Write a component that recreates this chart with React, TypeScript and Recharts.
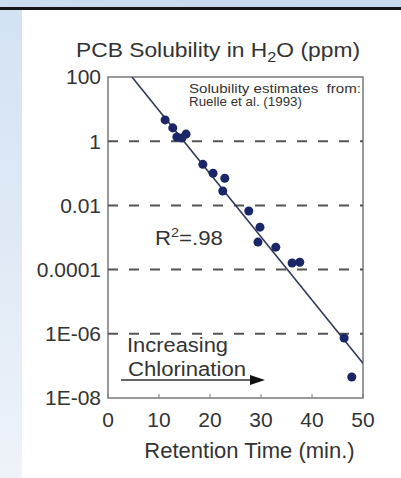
import React from 'react';
import {
	ScatterChart,
	Scatter,
	XAxis,
	YAxis,
	ReferenceLine,
	ReferenceArea,
	Label,
} from 'recharts';

// Data
const retentionTimes = [
	11.2, 12.7, 13.5, 14.5, 15.3, 18.6, 20.6, 22.9, 22.5, 27.6, 29.8, 29.4, 32.9,
	36.1, 37.6, 46.3, 47.8,
];
const solubilities = [
	4.6, 2.6, 1.35, 1.26, 1.66, 0.19, 0.1, 0.07, 0.028, 0.0067, 0.0021, 0.00072,
	0.0005, 0.00016, 0.00017, 7.4e-7, 4.5e-8,
];

// Regression line end points
const fitTimes = [4.7, 50];
const fitValues = [100, 1.2e-7];

const xTicks = [0, 10, 20, 30, 40, 50];
const yTicks = [1e-8, 1e-6, 1e-4, 1e-2, 1, 100];
const yTickLabels = ['1E-08', '1E-06', '0.0001', '0.01', '1', '100'];
const gridValues = [1e-6, 1e-4, 1e-2, 1];

type Pt = { time: number; sol: number };

const points: Pt[] = retentionTimes.map((t, i) => ({ time: t, sol: solubilities[i] }));
const fit: Pt[] = fitTimes.map((t, i) => ({ time: t, sol: fitValues[i] }));

const FONT = '"Liberation Sans", Arial, sans-serif';
const TEXT = '#333';

const formatY = (v: number) => {
	const i = yTicks.findIndex((t) => Math.abs(Math.log10(t) - Math.log10(v)) < 1e-6);
	return i >= 0 ? yTickLabels[i] : '';
};

const App = () => {
	return (
		<div
			style={{
				position: 'absolute',
				left: 0,
				top: 0,
				width: 401,
				height: 478,
				background: '#fff',
				overflow: 'hidden',
			}}>
			{/* slide background */}
			<div
				style={{
					position: 'absolute',
					left: 0,
					top: 0,
					width: 22,
					height: 478,
					background: 'linear-gradient(#d3e2f3, #e2ebf6 60%, #eef3f9)',
				}}
			/>
			<div
				style={{
					position: 'absolute',
					left: 0,
					top: 0,
					width: 401,
					height: 7,
					background: 'linear-gradient(90deg, #cddcef, #c6d9ef)',
				}}
			/>
			<div
				style={{
					position: 'absolute',
					left: 0,
					top: 7,
					width: 401,
					height: 3,
					background: '#151515',
				}}
			/>
			<div style={{ position: 'absolute', left: 0, top: 0 }}>
				<ScatterChart
					width={401}
					height={478}
					margin={{ top: 77, right: 38, left: 8, bottom: 0 }}>
					<ReferenceArea
						x1={0}
						x2={50}
						y1={1e-8}
						y2={100}
						fill='none'
						fillOpacity={0}
						stroke='#7a7a7a'
						strokeWidth={1.5}
					/>
					{gridValues.map((v) => (
						<ReferenceLine
							key={v}
							y={v}
							stroke='#555'
							strokeWidth={2}
							strokeDasharray='10 11'
						/>
					))}
					<XAxis
						type='number'
						dataKey='time'
						domain={[0, 50]}
						ticks={xTicks}
						allowDataOverflow
						height={80}
						axisLine={false}
						tickSize={-4}
						tickMargin={18}
						tickLine={{ stroke: '#7a7a7a' }}
						tick={{ fontSize: 21, fill: TEXT, fontFamily: FONT }}>
						<Label
							value='Retention Time (min.)'
							position='insideBottom'
							offset={20}
							dx={14}
							style={{ fontSize: 22, fill: TEXT, fontFamily: FONT }}
						/>
					</XAxis>
					<YAxis
						type='number'
						dataKey='sol'
						scale='log'
						domain={[1e-8, 100]}
						ticks={yTicks}
						allowDataOverflow
						width={100}
						axisLine={false}
						tickLine={false}
						tickSize={0}
						tickMargin={7}
						tickFormatter={formatY}
						tick={{ fontSize: 21, fill: TEXT, fontFamily: FONT }}
					/>
					<Scatter
						data={fit}
						line={{ stroke: '#2e3a56', strokeWidth: 1.6 }}
						shape={() => <g />}
						isAnimationActive={false}
					/>
					<Scatter
						data={points}
						fill='#1b2668'
						shape='circle'
						isAnimationActive={false}
					/>
				</ScatterChart>
			</div>
			{/* title and annotations */}
			<svg
				width={401}
				height={478}
				style={{ position: 'absolute', left: 0, top: 0, pointerEvents: 'none' }}
				fontFamily={FONT}
				fill={TEXT}>
				<text x={76} y={57} fontSize={21} textLength={284} lengthAdjust='spacingAndGlyphs'>
					PCB Solubility in H
					<tspan dy={5} fontSize={15}>
						2
					</tspan>
					<tspan dy={-5}>O (ppm)</tspan>
				</text>
				<text
					x={189}
					y={93}
					fontSize={12.5}
					textLength={172}
					lengthAdjust='spacingAndGlyphs'
					style={{ whiteSpace: 'pre' }}>
					{'Solubility estimates  from:'}
				</text>
				<text x={189} y={106} fontSize={12.5} textLength={113} lengthAdjust='spacingAndGlyphs'>
					Ruelle et al. (1993)
				</text>
				<text x={155} y={245} fontSize={20} textLength={68} lengthAdjust='spacingAndGlyphs'>
					R
					<tspan dy={-8} fontSize={13}>
						2
					</tspan>
					<tspan dy={8}>=.98</tspan>
				</text>
				<text x={127} y={352} fontSize={20} textLength={101} lengthAdjust='spacingAndGlyphs'>
					Increasing
				</text>
				<text x={128} y={376} fontSize={20} textLength={118} lengthAdjust='spacingAndGlyphs'>
					Chlorination
				</text>
				<line x1={121} y1={380} x2={252} y2={380} stroke='#333' strokeWidth={1.5} />
				<polygon points='250,375 265,380 250,385' fill='#111' />
			</svg>
		</div>
	);
};

export default App;
